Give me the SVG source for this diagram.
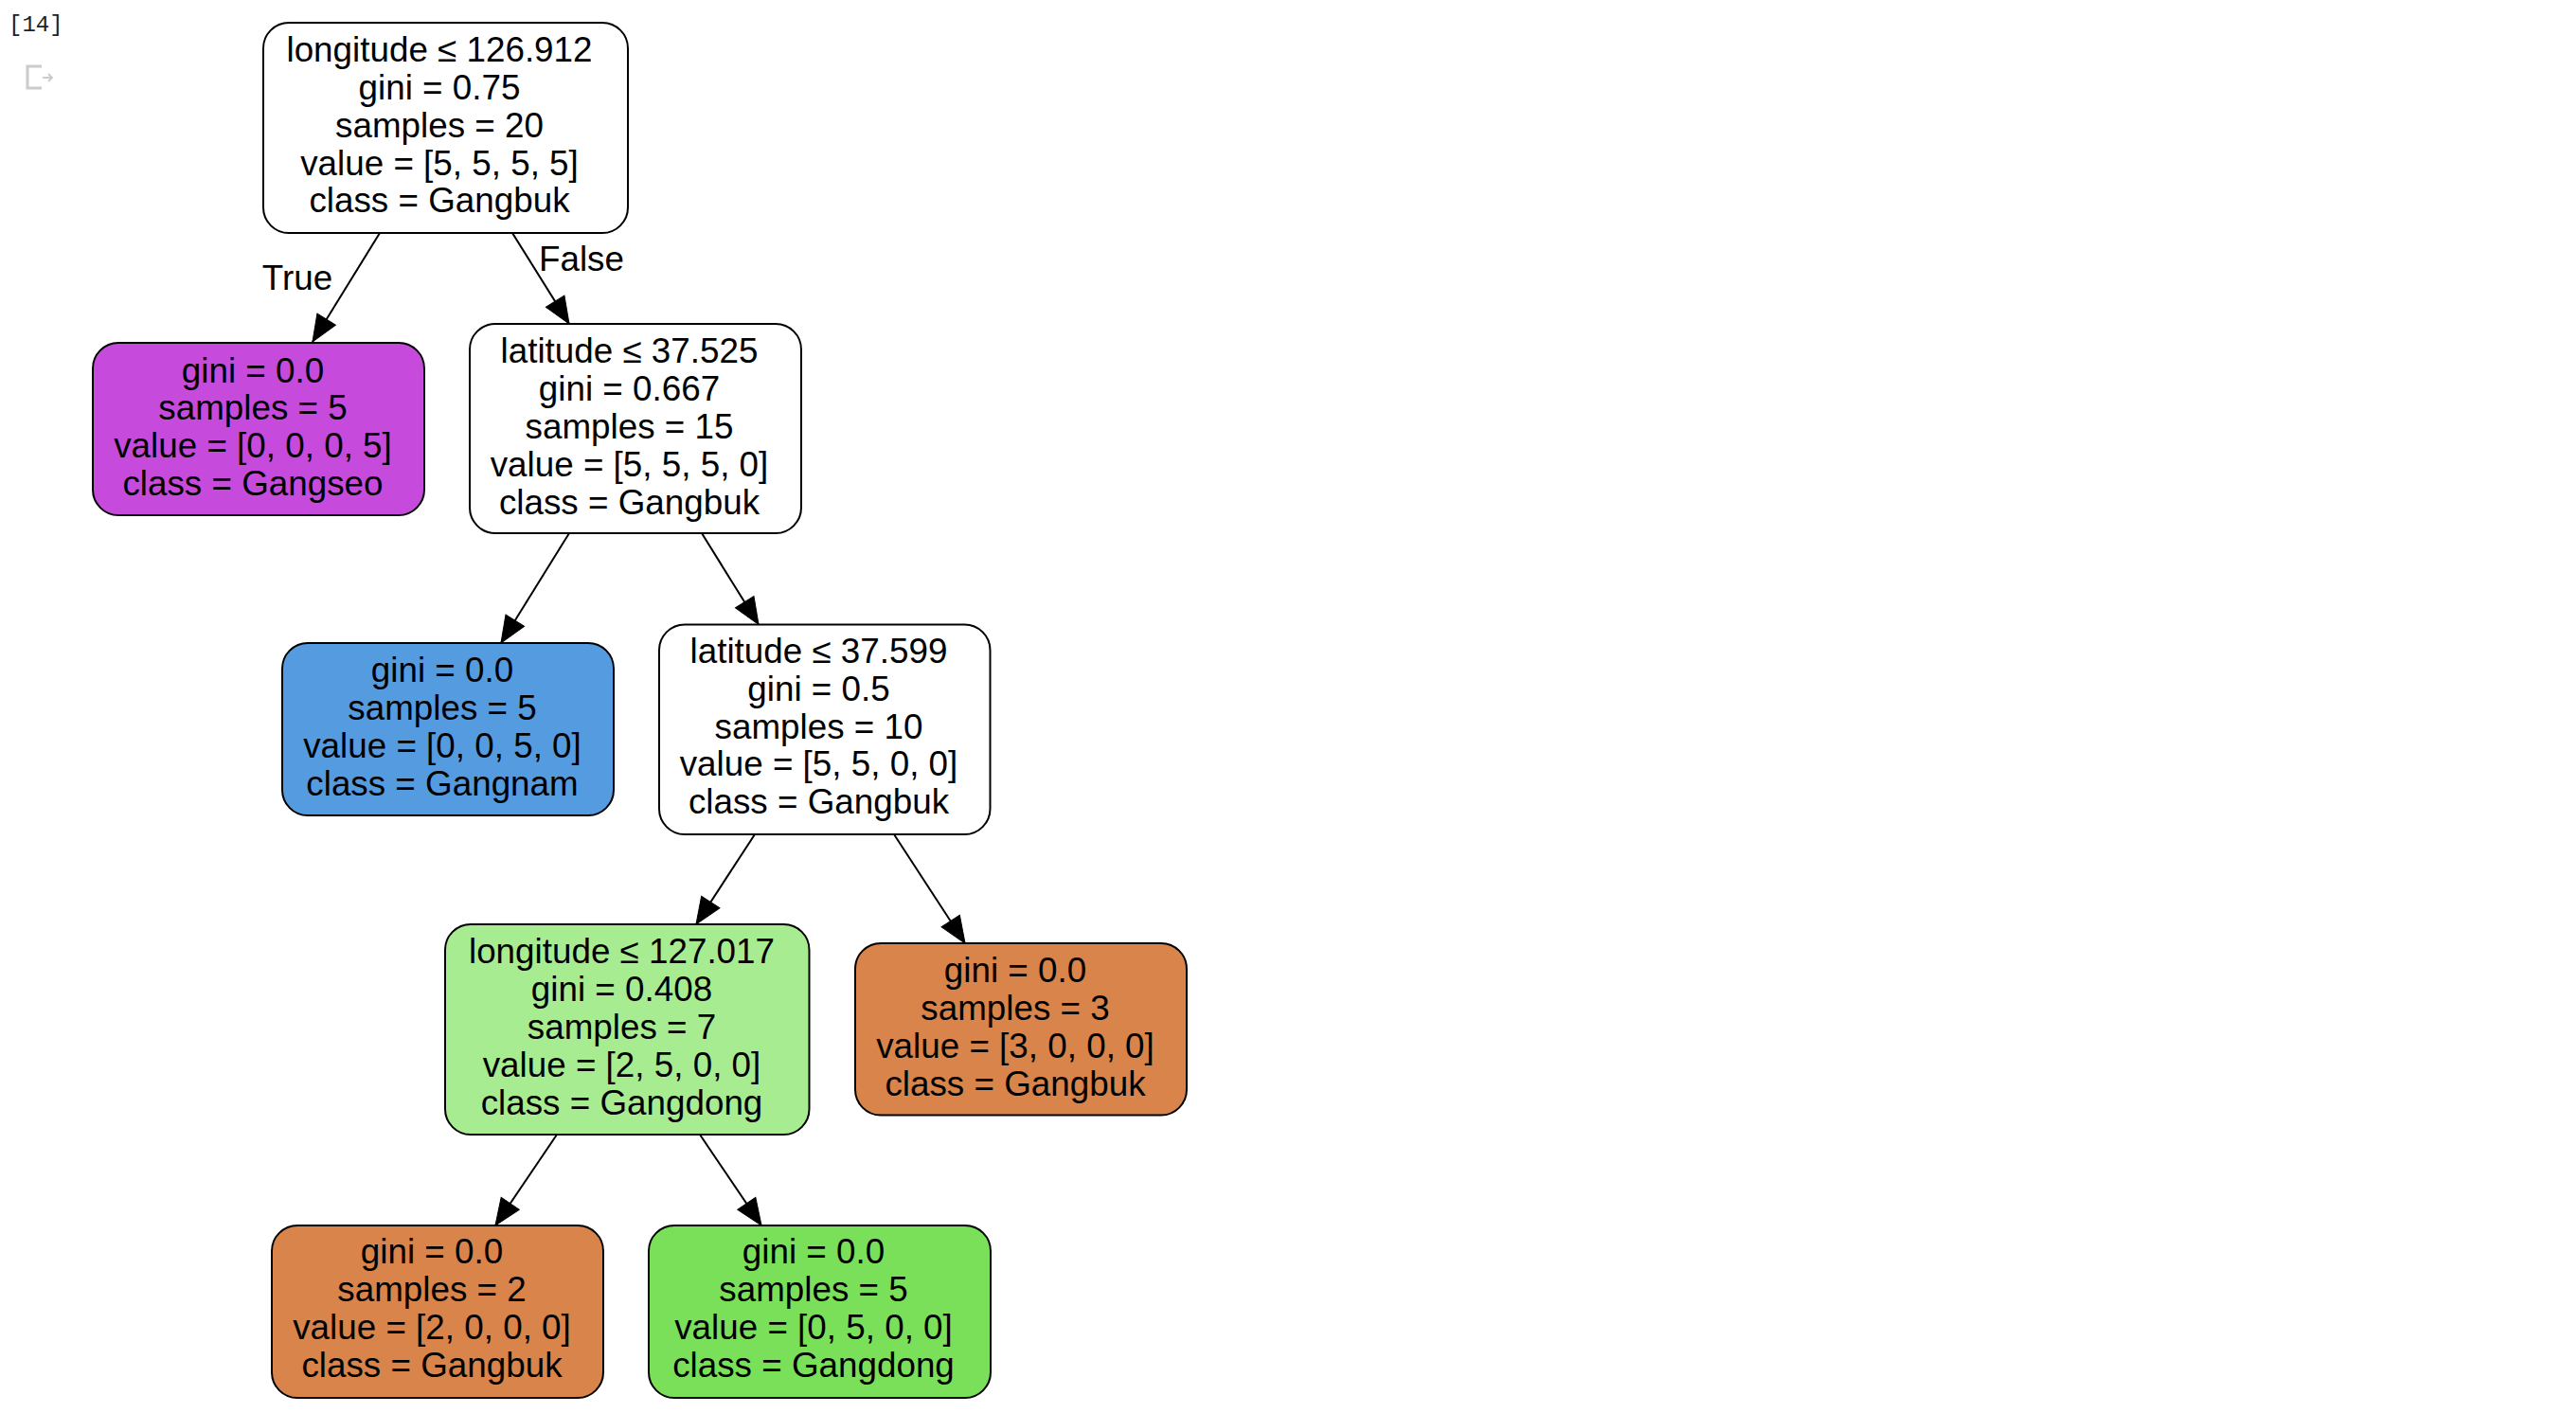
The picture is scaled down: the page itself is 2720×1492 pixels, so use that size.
<svg xmlns="http://www.w3.org/2000/svg" width="2720" height="1492" viewBox="0 0 2720 1492">
<style>
.bg{fill:#ffffff}
.node rect{stroke:#000;stroke-width:2}
.white{fill:#ffffff}
.purple{fill:#c64bdc}
.blue{fill:#559be0}
.lgreen{fill:#a8ec92}
.orange{fill:#d8844a}
.green{fill:#7be059}
.t{font-family:"Liberation Sans",Arial,Helvetica,sans-serif;font-size:36.8px;fill:#000;text-anchor:middle}
.edge{stroke:#000;stroke-width:2;fill:none;marker-end:url(#ah)}
.cell{font-family:"Liberation Mono","DejaVu Sans Mono",monospace;font-size:24px;fill:#222}
</style>
<defs>
<marker id="ah" markerUnits="userSpaceOnUse" markerWidth="30" markerHeight="24" refX="28" refY="11.5" orient="auto" overflow="visible">
<path d="M0,0 L28,11.5 L0,23 Z" fill="#000" stroke="#000" stroke-width="1"/>
</marker>
</defs>
<rect class="bg" x="0" y="0" width="2720" height="1492"/>

<g id="cell-prompt">
<text class="cell" x="9" y="33">[14]</text>
<path d="M44,70 H29 V93 H44" fill="none" stroke="#cccccc" stroke-width="3"/>
<path d="M45,82 H55 M51,78 L55,82 L51,86" fill="none" stroke="#cccccc" stroke-width="2"/>
</g>

<g id="connectors">
<path class="edge" d="M401,246 L330,361"/>
<path class="edge" d="M541,246 L601,342"/>
<path class="edge" d="M601,563 L529,679"/>
<path class="edge" d="M741,563 L801,659.5"/>
<path class="edge" d="M797,881 L735,976"/>
<path class="edge" d="M944,881 L1019,996"/>
<path class="edge" d="M588,1198 L523,1294"/>
<path class="edge" d="M739,1198 L804,1294"/>
<text class="t" x="314" y="306">True</text>
<text class="t" x="614" y="286">False</text>
</g>

<g id="node0" class="node">
<rect class="white" x="278" y="24" width="385" height="222" rx="27" ry="27"/>
<text class="t" x="464" y="64.8">longitude ≤ 126.912</text>
<text class="t" x="464" y="104.7">gini = 0.75</text>
<text class="t" x="464" y="144.6">samples = 20</text>
<text class="t" x="464" y="184.5">value = [5, 5, 5, 5]</text>
<text class="t" x="464" y="224.4">class = Gangbuk</text>
</g>

<g id="node1" class="node">
<rect class="purple" x="98" y="362" width="350" height="182" rx="27" ry="27"/>
<text class="t" x="267" y="403.5">gini = 0.0</text>
<text class="t" x="267" y="443.4">samples = 5</text>
<text class="t" x="267" y="483.3">value = [0, 0, 0, 5]</text>
<text class="t" x="267" y="523.2">class = Gangseo</text>
</g>

<g id="node2" class="node">
<rect class="white" x="496" y="342" width="350" height="221" rx="27" ry="27"/>
<text class="t" x="664.5" y="383">latitude ≤ 37.525</text>
<text class="t" x="664.5" y="422.9">gini = 0.667</text>
<text class="t" x="664.5" y="462.8">samples = 15</text>
<text class="t" x="664.5" y="502.7">value = [5, 5, 5, 0]</text>
<text class="t" x="664.5" y="542.6">class = Gangbuk</text>
</g>

<g id="node3" class="node">
<rect class="blue" x="298" y="679" width="350" height="182" rx="27" ry="27"/>
<text class="t" x="467" y="720.4">gini = 0.0</text>
<text class="t" x="467" y="760.3">samples = 5</text>
<text class="t" x="467" y="800.2">value = [0, 0, 5, 0]</text>
<text class="t" x="467" y="840.1">class = Gangnam</text>
</g>

<g id="node4" class="node">
<rect class="white" x="696" y="659.5" width="349.5" height="221.5" rx="27" ry="27"/>
<text class="t" x="864.5" y="699.7">latitude ≤ 37.599</text>
<text class="t" x="864.5" y="739.6">gini = 0.5</text>
<text class="t" x="864.5" y="779.5">samples = 10</text>
<text class="t" x="864.5" y="819.4">value = [5, 5, 0, 0]</text>
<text class="t" x="864.5" y="859.3">class = Gangbuk</text>
</g>

<g id="node5" class="node">
<rect class="lgreen" x="470" y="976" width="384.5" height="222" rx="27" ry="27"/>
<text class="t" x="656.5" y="1017.3">longitude ≤ 127.017</text>
<text class="t" x="656.5" y="1057.2">gini = 0.408</text>
<text class="t" x="656.5" y="1097.1">samples = 7</text>
<text class="t" x="656.5" y="1137">value = [2, 5, 0, 0]</text>
<text class="t" x="656.5" y="1176.9">class = Gangdong</text>
</g>

<g id="node6" class="node">
<rect class="orange" x="287" y="1294" width="350" height="182" rx="27" ry="27"/>
<text class="t" x="456" y="1334">gini = 0.0</text>
<text class="t" x="456" y="1373.9">samples = 2</text>
<text class="t" x="456" y="1413.8">value = [2, 0, 0, 0]</text>
<text class="t" x="456" y="1453.7">class = Gangbuk</text>
</g>

<g id="node7" class="node">
<rect class="green" x="685" y="1294" width="361" height="182" rx="27" ry="27"/>
<text class="t" x="859" y="1334">gini = 0.0</text>
<text class="t" x="859" y="1373.9">samples = 5</text>
<text class="t" x="859" y="1413.8">value = [0, 5, 0, 0]</text>
<text class="t" x="859" y="1453.7">class = Gangdong</text>
</g>

<g id="node8" class="node">
<rect class="orange" x="903" y="996" width="350" height="181.5" rx="27" ry="27"/>
<text class="t" x="1072" y="1037.3">gini = 0.0</text>
<text class="t" x="1072" y="1077.2">samples = 3</text>
<text class="t" x="1072" y="1117.1">value = [3, 0, 0, 0]</text>
<text class="t" x="1072" y="1157">class = Gangbuk</text>
</g>
</svg>
